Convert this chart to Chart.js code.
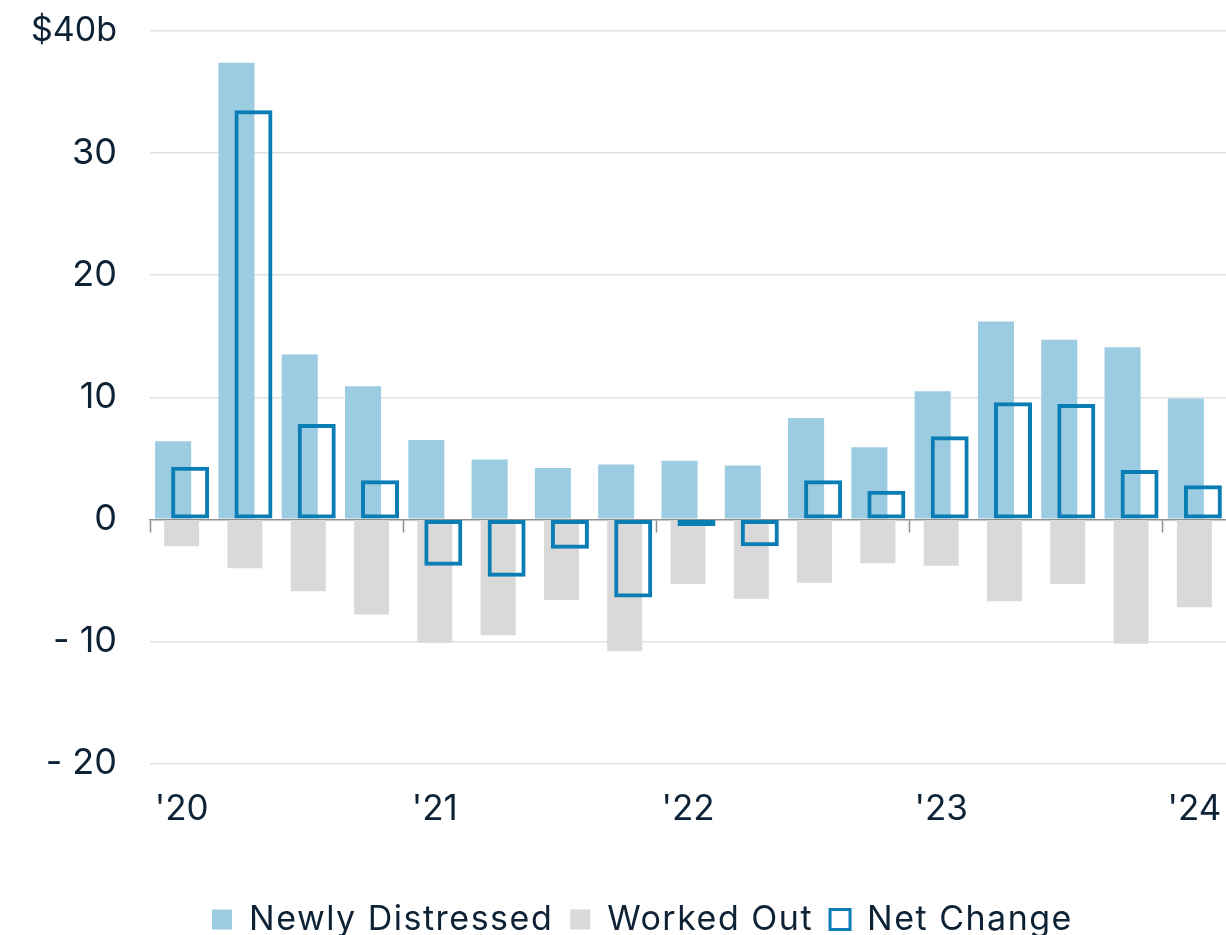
<!DOCTYPE html>
<html>
<head>
<meta charset="utf-8">
<script src="https://cdn.jsdelivr.net/npm/chart.js@4/dist/chart.umd.min.js"></script>
<style>
  body { margin: 0; background: #fff; }
  #wrap { width: 1226px; height: 935px; }
</style>
</head>
<body>
<div id="wrap"><canvas id="myChart" width="1226" height="935"></canvas></div>
<script>
const categories = ['Q1 2020', 'Q2 2020', 'Q3 2020', 'Q4 2020',
  'Q1 2021', 'Q2 2021', 'Q3 2021', 'Q4 2021',
  'Q1 2022', 'Q2 2022', 'Q3 2022', 'Q4 2022',
  'Q1 2023', 'Q2 2023', 'Q3 2023', 'Q4 2023',
  'Q1 2024'];
const yearLabels = ["'20", "'21", "'22", "'23", "'24"];

const newlyDistressed = [6.4, 37.4, 13.5, 10.9, 6.5, 4.9, 4.2, 4.5, 4.8, 4.4, 8.3, 5.9, 10.5, 16.2, 14.7, 14.1, 9.9];
const workedOut = [-2.2, -4.0, -5.9, -7.8, -10.1, -9.5, -6.6, -10.8, -5.3, -6.5, -5.2, -3.6, -3.8, -6.7, -5.3, -10.2, -7.2];
const netChange = [4.3, 33.5, 7.8, 3.2, -3.8, -4.7, -2.4, -6.4, -0.55, -2.2, 3.2, 2.35, 6.8, 9.6, 9.45, 4.05, 2.8];

const yTicks = [-20, -10, 0, 10, 20, 30, 40];
const yTickLabels = ['- 20', '- 10', '0', '10', '20', '30', '$40b'];

const textColor = '#0d2235';

// net change sits in the right slot but is painted over the other two
const netOnTop = {
  id: 'netOnTop',
  beforeDatasetDraw(chart, args) {
    if (args.index === 2) return false;
  },
  afterDatasetsDraw(chart) {
    chart.getDatasetMeta(2).controller.draw();
  }
};

// wider legend lettering, and legend nudged right like the original
const legendTweak = {
  id: 'legendTweak',
  beforeLayout(chart) {
    const lg = chart.legend;
    if (!lg || lg._spaced) return;
    lg._spaced = true;
    const fit = lg.fit.bind(lg);
    const draw = lg.draw.bind(lg);
    lg.fit = function() {
      chart.ctx.letterSpacing = '1.5px';
      fit();
      chart.ctx.letterSpacing = '0px';
    };
    lg.draw = function(area) {
      chart.ctx.letterSpacing = '1.5px';
      draw(area);
      chart.ctx.letterSpacing = '0px';
    };
  },
  afterLayout(chart) {
    chart.legend.left += 59;
  }
};

Chart.defaults.color = textColor;
Chart.defaults.font.family = 'Inter';

const config = {
  type: 'bar',
  data: {
    labels: categories,
    datasets: [
      {
        label: 'Newly Distressed',
        data: newlyDistressed,
        backgroundColor: '#9ccce2',
        barPercentage: 4.24
      },
      {
        label: 'Worked Out',
        data: workedOut,
        backgroundColor: '#d9d9d9',
        barPercentage: 4.12
      },
      {
        label: 'Net Change',
        data: netChange,
        backgroundColor: 'rgba(0,0,0,0)',
        borderColor: '#0a7db5',
        borderWidth: 4,
        borderSkipped: false,
        barPercentage: 4.47
      }
    ]
  },
  options: {
    responsive: false,
    animation: false,
    categoryPercentage: 0.403,
    layout: {
      padding: {left: 0, right: 0, top: 31, bottom: -11.5}
    },
    plugins: {
      tooltip: {enabled: false},
      legend: {
        position: 'bottom',
        labels: {
          color: textColor,
          font: {family: 'Inter', size: 34, lineHeight: 0.94},
          boxWidth: 20,
          boxHeight: 20,
          padding: 17,
          generateLabels: (chart) => {
            const items = Chart.defaults.plugins.legend.labels.generateLabels(chart);
            items[2].lineWidth = 3;
            return items;
          }
        }
      }
    },
    scales: {
      x: {
        position: 'bottom',
        grid: {display: false, drawTicks: true, tickLength: 25},
        border: {display: false},
        ticks: {
          autoSkip: false,
          maxRotation: 0,
          padding: 0,
          font: {family: 'Inter', size: 35},
          color: textColor,
          callback: (v, i) => (i % 4 === 0 ? yearLabels[i / 4] : '')
        },
        afterFit: (scale) => { scale.height = 122; }
      },
      x2: {
        type: 'category',
        position: {y: 0},
        offset: true,
        ticks: {display: false},
        grid: {
          offset: true,
          drawOnChartArea: false,
          drawTicks: true,
          tickLength: 12,
          tickWidth: 1.5,
          tickColor: (ctx) => (ctx.index !== undefined && ctx.index % 4 === 0 ? '#8f8f8f' : 'rgba(0,0,0,0)')
        },
        border: {display: true, color: '#8f8f8f', width: 1.5}
      },
      y: {
        min: -20,
        max: 40,
        ticks: {
          stepSize: 10,
          padding: 0,
          color: textColor,
          font: (ctx) => ({family: 'Inter', size: ctx.tick && ctx.tick.value === 40 ? 34 : 36}),
          callback: (v) => yTickLabels[yTicks.indexOf(v)]
        },
        grid: {
          color: (ctx) => (ctx.tick && ctx.tick.value === 0 ? 'rgba(0,0,0,0)' : '#e2e2e2'),
          lineWidth: 1.5,
          drawTicks: true,
          tickLength: 33,
          tickColor: 'rgba(0,0,0,0)'
        },
        border: {display: false},
        afterFit: (scale) => { scale.width = 150; }
      }
    }
  },
  plugins: [netOnTop, legendTweak]
};

const myChart = new Chart(document.getElementById('myChart'), config);
</script>
</body>
</html>
